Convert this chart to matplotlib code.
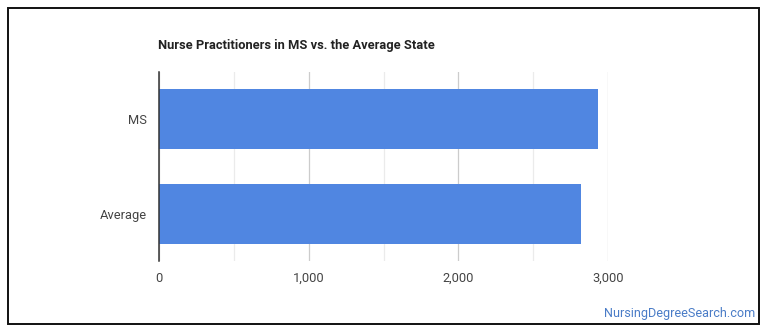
import matplotlib.pyplot as plt
from matplotlib.patches import Rectangle
from matplotlib.ticker import FuncFormatter, MultipleLocator

categories = ["MS", "Average"]
values = [2933, 2817]
x_ticks = [0, 1000, 2000, 3000]

plt.rcParams['font.family'] = ['Roboto', 'DejaVu Sans']

fig = plt.figure(figsize=(7.7, 3.35), dpi=100)
ax = fig.add_axes([159/770, (335-261)/335, (608-159)/770, (261-72)/335])

# bars, top category first
ypos = list(range(len(categories)))[::-1]
ax.barh(ypos, values, height=0.635, color='#5086E1', zorder=3)
ax.set_yticks(ypos)
ax.set_yticklabels(categories)
ax.set_ylim(-0.5, 1.5)

ax.set_xlim(0, 3000)
ax.set_xticks(x_ticks)
ax.xaxis.set_major_formatter(FuncFormatter(lambda v, p: f"{int(v):,}"))
ax.xaxis.set_minor_locator(MultipleLocator(500))
ax.grid(True, axis='x', which='major', color='#cccccc', linewidth=0.9, zorder=0)
ax.grid(True, axis='x', which='minor', color='#ebebeb', linewidth=0.9, zorder=0)

for s in ['top', 'right', 'bottom']:
    ax.spines[s].set_visible(False)
ax.spines['left'].set_color('#333333')
ax.spines['left'].set_linewidth(1.1)
ax.spines['left'].set_zorder(4)
ax.tick_params(axis='both', which='both', length=0, labelsize=9.3, labelcolor='#444444')
ax.tick_params(axis='y', pad=8.5)
ax.tick_params(axis='x', pad=8)

fig.text(158/770, 1 - 45/335, "Nurse Practitioners in MS vs. the Average State",
         fontsize=9.3, fontweight='bold', color='#222222', va='center', ha='left')
fig.text(755/770, 1 - 313/335, "NursingDegreeSearch.com", fontsize=9.1,
         color='#4A7CC7', va='center', ha='right')

# outer frame
fig.patches.append(Rectangle((8/770, 1 - 324/335), (759-8)/770, (324-8)/335,
                             transform=fig.transFigure, fill=False,
                             edgecolor='#111111', linewidth=1.4))

plt.savefig('out.png', dpi=100)
